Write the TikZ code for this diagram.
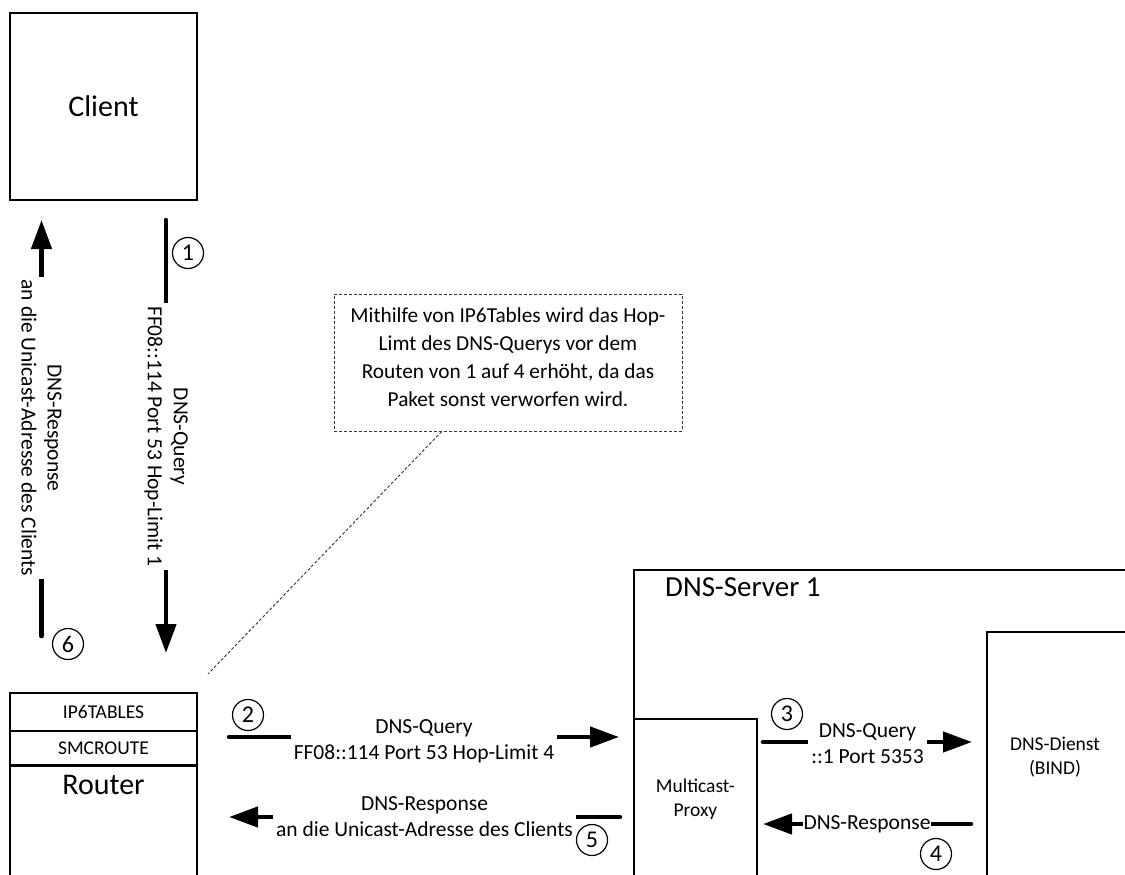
\documentclass[tikz,border=0pt]{standalone}
\usepackage{fontspec}
\setmainfont{Carlito}
\usetikzlibrary{arrows.meta}

\newcommand\fsHead{\fontsize{30}{36}\selectfont}
\newcommand\fsTitle{\fontsize{29}{34}\selectfont}
\newcommand\fsSmall{\fontsize{19.5}{24}\selectfont}
\newcommand\fsLabel{\fontsize{21.5}{26}\selectfont}
\newcommand\fsNote{\fontsize{21.3}{28}\selectfont}
\newcommand\fsNum{\fontsize{24}{28}\selectfont}

\tikzset{
  box/.style={draw, line width=1.8pt, inner sep=0pt},
  flow/.style={line width=4.5pt, line cap=round},
  flowtip/.style={-{Triangle[length=29pt,width=20pt]}},
  lbl/.style={font=\fsLabel, align=center, fill=white, inner sep=3pt},
  num/.style={circle, draw, line width=1.2pt, minimum size=31pt, inner sep=0pt, font=\fsNum},
  notebox/.style={draw=black!80, line width=0.9pt, dash pattern=on 3pt off 2pt,
                  minimum width=348pt, minimum height=137pt, align=center, font=\fsNote},
  leader/.style={draw=black!80, line width=0.9pt, dash pattern=on 3pt off 2pt}
}

\begin{document}
\begin{tikzpicture}[x=1pt,y=-1pt]
\useasboundingbox (0,0) rectangle (1125,875);
\clip (0,0) rectangle (1125,875);

% client
\node[box, minimum width=187pt, minimum height=187pt, font=\fsHead] (client) at (103.5,106.5) {Client};

% router with its two services on top
\node[box, minimum width=187pt, minimum height=38pt, font=\fsSmall] (ip6) at (103.5,712) {IP6TABLES};
\node[box, minimum width=187pt, minimum height=34pt, font=\fsSmall] (smc) at (103.5,748) {SMCROUTE};
\node[box, anchor=north, minimum width=187pt, minimum height=130pt,
      label={[anchor=north, font=\fsHead, inner sep=0pt, yshift=-10pt]north:Router}] (router) at (103.5,765) {};

% DNS server with proxy and BIND
\node[box, anchor=north west, minimum width=510pt, minimum height=320pt,
      label={[anchor=west, font=\fsTitle, inner sep=0pt, xshift=32pt, yshift=-18pt]north west:DNS-Server 1}] (server) at (633,569) {};
\node[box, anchor=north west, minimum width=123pt, minimum height=160pt,
      align=center, font=\fsSmall] (proxy) at (633,718) {Multicast-\\Proxy};
\node[box, anchor=north west, minimum width=160pt, minimum height=252pt] (bind) at (986,631) {};
\node[align=center, font=\fsSmall] (bindtext) at (1055,757) {DNS-Dienst\\(BIND)};

% comment box
\node[notebox, text depth=10pt] (note) at (508,362.5)
  {Mithilfe von IP6Tables wird das Hop-\\Limt des DNS-Querys vor dem\\Routen von 1 auf 4 erhöht, da das\\Paket sonst verworfen wird.};
\coordinate (leadend) at (208,674);
\draw[leader] (note) -- (leadend);

% message flow endpoints
\coordinate (q1s) at (166,220);   \coordinate (q1e) at (166,653);
\coordinate (r6s) at (41.5,636);  \coordinate (r6e) at (41.5,220);
\coordinate (q2s) at (229,737);   \coordinate (q2e) at (619,737);
\coordinate (r5s) at (620,817);   \coordinate (r5e) at (229,817);
\coordinate (q3s) at (763,742);   \coordinate (q3e) at (972,742);
\coordinate (r4s) at (971,824);   \coordinate (r4e) at (763,824);

\draw[flow, flowtip] (q1s) -- node[lbl, rotate=-90] {DNS-Query\\FF08::114 Port 53 Hop-Limit 1} (q1e);
\draw[flow, flowtip] (r6s) -- node[lbl, rotate=-90] {DNS-Response\\an die Unicast-Adresse des Clients} (r6e);
\draw[flow, flowtip] (q2s) -- node[lbl, yshift=-4pt] {DNS-Query\\FF08::114 Port 53 Hop-Limit 4} (q2e);
\draw[flow, flowtip] (r5s) -- node[lbl] {DNS-Response\\an die Unicast-Adresse des Clients} (r5e);
\draw[flow, flowtip] (q3s) -- node[lbl, yshift=-2pt] {DNS-Query\\::1 Port 5353} (q3e);
\draw[flow, flowtip] (r4s) -- node[lbl, inner sep=1pt] {DNS-Response} (r4e);

% step numbers
\node[num] (n1) at (188,253) {1};
\node[num] (n2) at (248,715) {2};
\node[num] (n3) at (787,714) {3};
\node[num] (n4) at (936,854) {4};
\node[num] (n5) at (592,840) {5};
\node[num] (n6) at (68,644) {6};
\end{tikzpicture}
\end{document}
